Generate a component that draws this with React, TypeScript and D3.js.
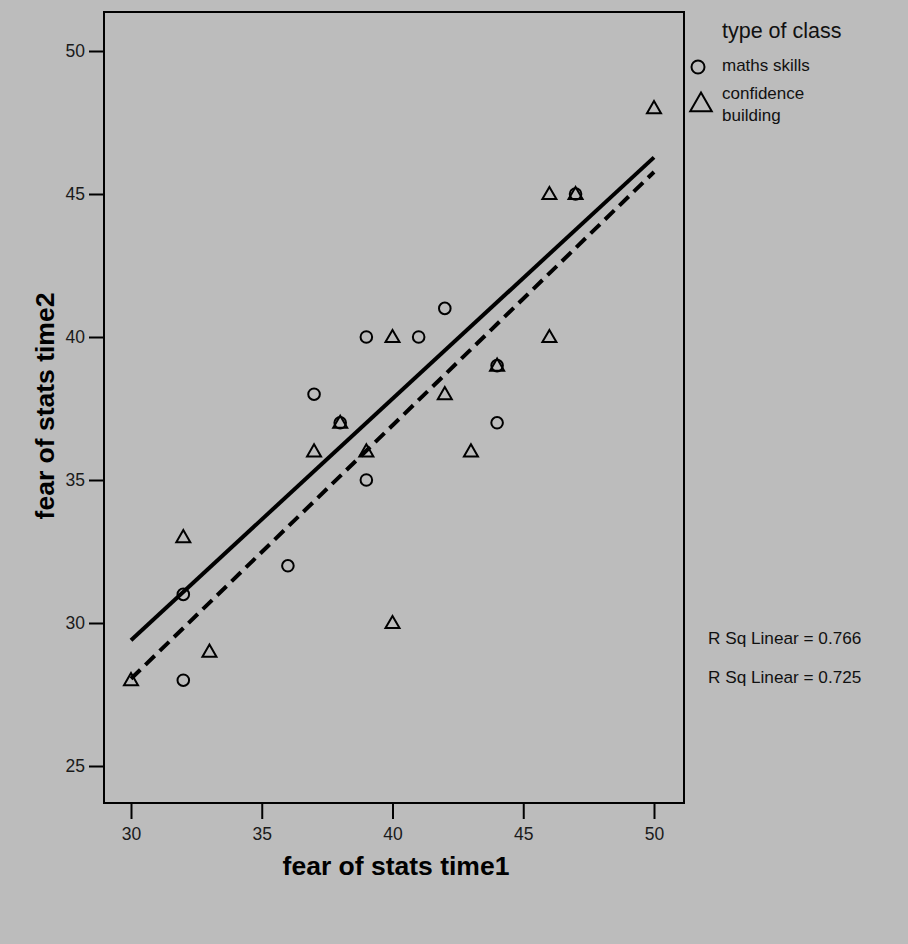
import React, { useEffect, useRef } from "react";
import * as d3 from "d3";

// ---- data ----
const mathsSkillsTime1 = [32, 32, 36, 37, 38, 39, 39, 41, 42, 44, 44, 47];
const mathsSkillsTime2 = [31, 28, 32, 38, 37, 40, 35, 40, 41, 39, 37, 45];
const confidenceTime1 = [30, 32, 33, 37, 38, 39, 40, 40, 42, 43, 44, 46, 46, 47, 50];
const confidenceTime2 = [28, 33, 29, 36, 37, 36, 40, 30, 38, 36, 39, 45, 40, 45, 48];
// fit lines (from x=30 to x=50), values in data units
const fitNames = ["solid", "dashed"];
const fitStartY = [29.4, 28.05];
const fitEndY = [46.28, 45.77];
const fitRSq = ["R Sq Linear = 0.766", "R Sq Linear = 0.725"];
const xTicks = [30, 35, 40, 45, 50];
const yTicks = [25, 30, 35, 40, 45, 50];
const legendTitle = "type of class";
const legendItems = ["maths skills", "confidence building"];

const W = 908;
const H = 944;
const FRAME = { left: 104, top: 12, right: 684, bottom: 803 };
const BG = "#bcbcbc";
const FONT = "'Liberation Sans', Arial, Helvetica, sans-serif";

export default function App() {
  const ref = useRef<SVGSVGElement | null>(null);

  useEffect(() => {
    const svg = d3.select(ref.current);
    svg.selectAll("*").remove();

    const x = d3.scaleLinear().domain([30, 50]).range([131, 654]);
    const y = d3.scaleLinear().domain([25, 50]).range([766, 51]);

    svg.append("rect").attr("x", 0).attr("y", 0).attr("width", W).attr("height", H).attr("fill", BG);

    // frame
    svg
      .append("rect")
      .attr("x", FRAME.left)
      .attr("y", FRAME.top)
      .attr("width", FRAME.right - FRAME.left)
      .attr("height", FRAME.bottom - FRAME.top)
      .attr("fill", "none")
      .attr("stroke", "#000")
      .attr("stroke-width", 2);

    // axes
    const yAxis = svg
      .append("g")
      .attr("transform", `translate(${FRAME.left},0)`)
      .call(d3.axisLeft(y).tickValues(yTicks).tickSize(15).tickSizeOuter(0).tickPadding(4).tickFormat(d3.format("d")));
    const xAxis = svg
      .append("g")
      .attr("transform", `translate(0,${FRAME.bottom})`)
      .call(d3.axisBottom(x).tickValues(xTicks).tickSize(16).tickSizeOuter(0).tickPadding(9).tickFormat(d3.format("d")));
    [yAxis, xAxis].forEach((a) => {
      a.select(".domain").remove();
      a.selectAll("line").attr("stroke", "#000").attr("stroke-width", 2);
      a.selectAll("text").attr("font-family", FONT).attr("font-size", 17.5).attr("fill", "#1a1a1a");
    });

    // axis titles
    svg
      .append("text")
      .attr("x", 396)
      .attr("y", 875)
      .attr("text-anchor", "middle")
      .attr("font-family", FONT)
      .attr("font-weight", "bold")
      .attr("font-size", 26.5)
      .text("fear of stats time1");
    svg
      .append("text")
      .attr("transform", `translate(54,${406}) rotate(-90)`)
      .attr("text-anchor", "middle")
      .attr("font-family", FONT)
      .attr("font-weight", "bold")
      .attr("font-size", 26.5)
      .text("fear of stats time2");

    // fit lines
    fitNames.forEach((n, i) => {
      svg
        .append("line")
        .attr("x1", x(30))
        .attr("y1", y(fitStartY[i]))
        .attr("x2", x(50))
        .attr("y2", y(fitEndY[i]))
        .attr("stroke", "#000")
        .attr("stroke-width", 4)
        .attr("stroke-dasharray", n === "dashed" ? "13 7" : null);
      svg
        .append("text")
        .attr("x", 708)
        .attr("y", y(fitStartY[i]) + 4)
        .attr("font-family", FONT)
        .attr("font-size", 17.2)
        .attr("fill", "#111")
        .text(fitRSq[i]);
    });

    // points
    const circles = mathsSkillsTime1.map((v, i) => [v, mathsSkillsTime2[i]]);
    const tris = confidenceTime1.map((v, i) => [v, confidenceTime2[i]]);
    svg
      .append("g")
      .selectAll("circle")
      .data(circles)
      .join("circle")
      .attr("cx", (d) => x(d[0]))
      .attr("cy", (d) => y(d[1]))
      .attr("r", 5.8)
      .attr("fill", "none")
      .attr("stroke", "#000")
      .attr("stroke-width", 2);
    const tri = d3.symbol(d3.symbolTriangle, 85);
    svg
      .append("g")
      .selectAll("path")
      .data(tris)
      .join("path")
      .attr("d", tri)
      .attr("transform", (d) => `translate(${x(d[0])},${y(d[1]) + 1})`)
      .attr("fill", "none")
      .attr("stroke", "#000")
      .attr("stroke-width", 2);

    // legend
    svg
      .append("text")
      .attr("x", 722)
      .attr("y", 38)
      .attr("font-family", FONT)
      .attr("font-size", 21.5)
      .attr("fill", "#111")
      .text(legendTitle);
    svg
      .append("circle")
      .attr("cx", 698)
      .attr("cy", 67)
      .attr("r", 6.5)
      .attr("fill", "none")
      .attr("stroke", "#000")
      .attr("stroke-width", 2);
    svg
      .append("text")
      .attr("x", 722)
      .attr("y", 71)
      .attr("font-family", FONT)
      .attr("font-size", 17)
      .attr("fill", "#111")
      .text(legendItems[0]);
    svg
      .append("path")
      .attr("d", d3.symbol(d3.symbolTriangle, 200)())
      .attr("transform", "translate(701,105)")
      .attr("fill", "none")
      .attr("stroke", "#000")
      .attr("stroke-width", 2);
    const words = legendItems[1].split(" ");
    const t2 = svg
      .append("text")
      .attr("font-family", FONT)
      .attr("font-size", 17)
      .attr("fill", "#111");
    t2.append("tspan").attr("x", 722).attr("y", 99).text(words[0]);
    t2.append("tspan").attr("x", 722).attr("y", 121).text(words[1]);
  }, []);

  return (
    <svg
      ref={ref}
      width={W}
      height={H}
      style={{ position: "absolute", left: 0, top: 0, display: "block" }}
    />
  );
}
